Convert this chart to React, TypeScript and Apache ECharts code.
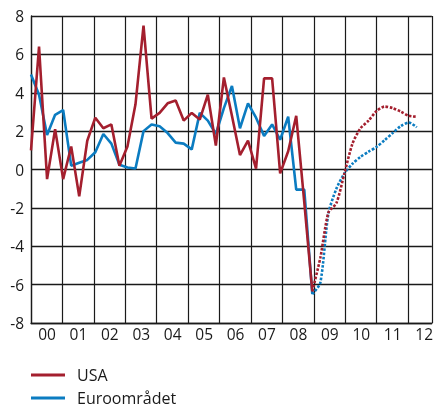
import React, { useEffect, useRef } from "react";
import * as echarts from "echarts";

// Quarterly growth, Q1 2000 .. Q4 2008 (actual)
const usaActual = [
  1.0, 6.4, -0.5, 2.1, -0.5, 1.2, -1.4, 1.5, 2.7, 2.15, 2.35, 0.2, 1.2, 3.4, 7.5, 2.65,
  2.95, 3.45, 3.6, 2.55, 2.95, 2.6, 3.9, 1.25, 4.8, 2.8, 0.75, 1.5, 0.05, 4.75, 4.75, -0.2,
  0.95, 2.8, -1.7, -6.35,
];
const euroActual = [
  4.95, 3.9, 1.8, 2.85, 3.1, 0.2, 0.35, 0.5, 0.9, 1.85, 1.35, 0.25, 0.1, 0.05, 2.0, 2.35,
  2.25, 1.9, 1.4, 1.35, 1.05, 2.95, 2.55, 1.85, 3.2, 4.35, 2.15, 3.45, 2.7, 1.75, 2.35, 1.55,
  2.75, -1.05, -1.05, -6.5,
];
// Forecast, starting at the last actual quarter
const usaForecast = [-6.35, -4.6, -2.25, -1.75, -0.2, 1.35, 2.15, 2.55, 3.05, 3.28, 3.2, 3.02, 2.8, 2.75];
const euroForecast = [-6.5, -5.9, -2.3, -1.0, -0.2, 0.3, 0.66, 0.93, 1.18, 1.53, 1.9, 2.26, 2.45, 2.2];

const seriesNames = ["USA", "Euroområdet"];
const yTicks = { min: -8, max: 8, step: 2 };
const years = { first: 2000, last: 2012.756 };
const quarterAxisMax = 49.88;

const RED = "#a41f2e";
const BLUE = "#0b7cc1";
const FONT = "'Open Sans', 'Noto Sans', sans-serif";

export default function App() {
  const ref = useRef<HTMLDivElement>(null);
  useEffect(() => {
    const chart = echarts.init(ref.current!, null, { renderer: "svg" });
    const toPts = (arr: number[], offset: number) => arr.map((v, i) => [i + offset, v]);
    const fOff = usaActual.length - 1;
    const gridColor = "#1a1a1a";
    chart.setOption({
      animation: false,
      grid: { left: 31, right: 0, top: 16, bottom: 87, containLabel: false },
      xAxis: [
        {
          type: "value",
          min: 0,
          max: quarterAxisMax,
          show: false,
        },
        {
          type: "value",
          min: years.first,
          max: years.last,
          interval: 1,
          position: "bottom",
          axisLine: { show: true, onZero: false, lineStyle: { color: gridColor, width: 1.3 } },
          axisTick: { show: false },
          splitLine: { show: true, lineStyle: { color: gridColor, width: 1.2 } },
          axisLabel: {
            show: true,
            color: "#1a1a1a",
            fontFamily: FONT,
            fontSize: 15.5,
            margin: 3,
            align: "center",
            padding: [0, 0, 0, 32],
            showMinLabel: true,
            showMaxLabel: false,
            formatter: (v: number) => String(Math.round(v) % 100).padStart(2, "0"),
          },
        },
      ],
      yAxis: {
        type: "value",
        min: yTicks.min,
        max: yTicks.max,
        interval: yTicks.step,
        axisLine: { show: true, onZero: false, lineStyle: { color: gridColor, width: 1.3 } },
        axisTick: { show: false },
        splitLine: { show: true, lineStyle: { color: gridColor, width: 1.3 } },
        axisLabel: {
          color: "#1a1a1a",
          fontFamily: FONT,
          fontSize: 15.5,
          margin: 7,
          padding: [6, 0, 0, 0],
        },
      },
      legend: {
        data: seriesNames,
        orient: "vertical",
        left: 31,
        top: 367,
        height: 60,
        padding: 0,
        itemWidth: 34,
        itemHeight: 3,
        itemGap: 7,
        icon: "rect",
        textStyle: {
          fontFamily: FONT,
          fontSize: 16,
          color: "#1a1a1a",
          lineHeight: 16,
          padding: [0, 0, 0, 7],
        },
      },
      series: [
        {
          name: seriesNames[1],
          type: "line",
          xAxisIndex: 0,
          data: toPts(euroActual, 0),
          symbol: "none",
          color: BLUE,
          lineStyle: { color: BLUE, width: 2.6 },
          z: 2,
        },
        {
          name: seriesNames[1] + " prognos",
          type: "line",
          xAxisIndex: 0,
          data: toPts(euroForecast, fOff),
          symbol: "none",
          smooth: 0.25,
          lineStyle: { color: BLUE, width: 2.6, type: [2.6, 1.6], cap: "butt" },
          z: 2,
        },
        {
          name: seriesNames[0],
          type: "line",
          xAxisIndex: 0,
          data: toPts(usaActual, 0),
          symbol: "none",
          color: RED,
          lineStyle: { color: RED, width: 2.6 },
          z: 3,
        },
        {
          name: seriesNames[0] + " prognos",
          type: "line",
          xAxisIndex: 0,
          data: toPts(usaForecast, fOff),
          symbol: "none",
          smooth: 0.25,
          lineStyle: { color: RED, width: 2.6, type: [2.6, 1.6], cap: "butt" },
          z: 3,
        },
      ],
    });
    return () => chart.dispose();
  }, []);
  return (
    <div
      ref={ref}
      style={{ position: "fixed", left: 0, top: 0, width: 436, height: 410 }}
    />
  );
}
